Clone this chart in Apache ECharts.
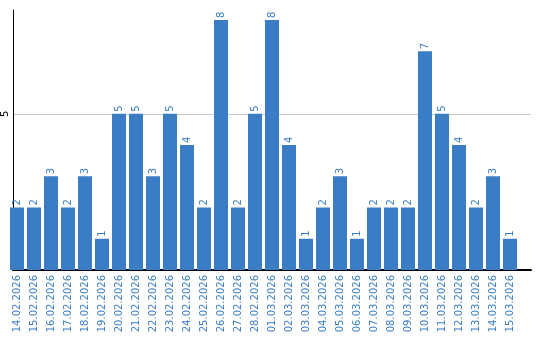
<!DOCTYPE html>
<html><head><meta charset="utf-8">
<script src="https://cdn.jsdelivr.net/npm/echarts@6/dist/echarts.min.js"></script>
<style>html,body{margin:0;padding:0;background:#fff}#c{width:540px;height:340px}</style>
</head><body><div id="c"></div>
<script>
var dates = ['14.02.2026','15.02.2026','16.02.2026','17.02.2026','18.02.2026','19.02.2026','20.02.2026','21.02.2026','22.02.2026','23.02.2026','24.02.2026','25.02.2026','26.02.2026','27.02.2026','28.02.2026','01.03.2026','02.03.2026','03.03.2026','04.03.2026','05.03.2026','06.03.2026','07.03.2026','08.03.2026','09.03.2026','10.03.2026','11.03.2026','12.03.2026','13.03.2026','14.03.2026','15.03.2026'];
var counts = [2,2,3,2,3,1,5,5,3,5,4,2,8,2,5,8,4,1,2,3,1,2,2,2,7,5,4,2,3,1];
var yMax = 8.32;
var yInterval = 5;

var blue = '#3b7dc4';
var font = 'DejaVu Sans';
var chart = echarts.init(document.getElementById('c'), null, {renderer:'canvas'});
chart.setOption({
  animation: false,
  grid: [
    {left: 8.5, right: 21.5, top: 10, bottom: 70},
    {left: 10, right: 9, top: 10, bottom: 70}
  ],
  xAxis: [
    {type: 'category', gridIndex: 0, data: dates,
     axisLine: {show: false}, axisTick: {show: false},
     axisLabel: {interval: 0, rotate: 90, margin: 5, color: blue, fontFamily: font, fontSize: 10}},
    {type: 'value', gridIndex: 1, min: 0, max: 1,
     axisLine: {show: true, onZero: false, lineStyle: {color: '#000', width: 2}},
     axisTick: {show: false}, axisLabel: {show: false}, splitLine: {show: false}}
  ],
  yAxis: [
    {type: 'value', gridIndex: 0, min: 0, max: yMax, interval: yInterval,
     axisLine: {show: false}, axisTick: {show: false}, axisLabel: {show: false}, splitLine: {show: false}},
    {type: 'value', gridIndex: 1, min: 0, max: yMax, interval: yInterval,
     axisLine: {show: true, lineStyle: {color: '#000', width: 1}},
     axisTick: {show: false},
     axisLabel: {rotate: 90, margin: 3, color: '#000', fontFamily: font, fontSize: 10,
       showMinLabel: false, showMaxLabel: false,
       formatter: function(v){ return v === yInterval ? String(v) : ''; }},
     splitLine: {show: true, showMinLine: false, showMaxLine: false, lineStyle: {color: '#c8c8c8', width: 1}}}
  ],
  series: [{
    type: 'bar', xAxisIndex: 0, yAxisIndex: 0, data: counts,
    barWidth: 14, z: 5,
    itemStyle: {color: blue},
    label: {show: true, position: 'top', rotate: 90, align: 'left', verticalAlign: 'middle',
      distance: 2, color: blue, fontFamily: font, fontSize: 10}
  }]
});
</script></body></html>
